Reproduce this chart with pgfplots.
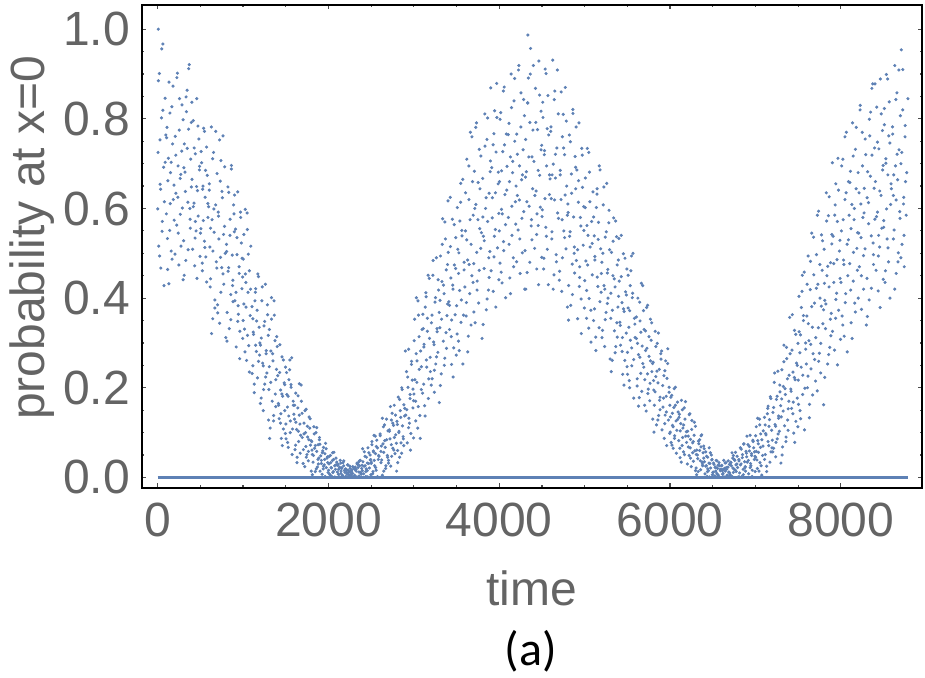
\documentclass[border=0pt]{standalone}
\usepackage{fontspec}
\setmainfont{Liberation Sans}
\newfontfamily\capfont{Carlito}
\usepackage{pgfplots}
\pgfplotsset{compat=1.18}
\definecolor{mmablue}{RGB}{94,129,181}
\definecolor{mmagray}{RGB}{100,100,100}
\begin{document}
\begin{tikzpicture}
\begin{axis}[
  scale only axis, width=390.15pt, height=241.35pt,
  xmin=-187, xmax=8950, ymin=-0.023, ymax=1.054,
  axis line style={black, line width=1pt},
  xtick={0,2000,4000,6000,8000},
  ytick={0,0.2,0.4,0.6,0.8,1.0},
  minor x tick num=3, minor y tick num=3,
  tick align=inside,
  major tick length=2.2pt, minor tick length=1.2pt,
  every tick/.style={black!70, line width=0.6pt},
  /pgf/number format/assume math mode=true,
  tick label style={font=\fontsize{24}{28}\selectfont, text=mmagray},
  xticklabel style={/pgf/number format/1000 sep={}, inner sep=0pt, anchor=north, yshift=-7.6pt},
  yticklabel style={/pgf/number format/fixed, /pgf/number format/fixed zerofill, /pgf/number format/precision=1, inner sep=0pt, anchor=east, xshift=-5.7pt},
  xlabel={time}, ylabel={probability at x=0},
  label style={font=\fontsize{24}{28}\selectfont, text=mmagray},
  xlabel style={at={(axis description cs:0.5,-0.243)}, anchor=base, inner sep=0pt},
  ylabel style={at={(axis description cs:-0.1246,0.518)}, anchor=base, inner sep=0pt},
]
\addplot[mmablue, only marks, mark=*, mark size=0.58pt, mark options={draw=none, fill=mmablue}] coordinates {
(4,0.725)(12,0.516)(20,0.901)(29,0.654)(37,0.467)(45,0.802)(54,0.571)(62,0.967)(70,0.692)(79,0.615)(87,0.846)(95,0.764)(7,1.0)
(102,0.588)(109,0.781)(117,0.464)(126,0.712)(133,0.882)(141,0.551)(150,0.680)(158,0.505)(166,0.827)(174,0.744)(183,0.620)(191,0.652)
(206,0.761)(214,0.634)(223,0.563)(231,0.902)(239,0.695)(248,0.474)(256,0.845)(264,0.667)(273,0.516)(281,0.728)(289,0.601)(297,0.798)
(304,0.528)(312,0.744)(320,0.681)(329,0.484)(337,0.816)(345,0.864)(354,0.614)(362,0.777)(370,0.921)(379,0.576)(387,0.710)(395,0.648)
(402,0.665)(409,0.509)(417,0.796)(426,0.612)(433,0.472)(441,0.722)(450,0.550)(458,0.845)(466,0.640)(474,0.583)(483,0.755)(491,0.694)
(506,0.555)(514,0.702)(523,0.461)(531,0.650)(539,0.779)(548,0.527)(556,0.625)(564,0.492)(573,0.737)(581,0.674)(589,0.580)(597,0.604)
(604,0.641)(612,0.514)(620,0.443)(629,0.782)(637,0.575)(645,0.354)(654,0.725)(662,0.547)(670,0.396)(679,0.608)(687,0.481)(695,0.678)
(702,0.385)(709,0.592)(717,0.532)(726,0.344)(733,0.661)(741,0.707)(750,0.468)(758,0.624)(766,0.762)(774,0.431)(783,0.560)(791,0.500)
(806,0.520)(814,0.368)(823,0.648)(831,0.468)(839,0.332)(848,0.576)(856,0.408)(864,0.696)(873,0.496)(881,0.440)(889,0.608)(897,0.548)
(904,0.394)(912,0.554)(920,0.291)(929,0.497)(937,0.637)(945,0.364)(954,0.470)(962,0.326)(970,0.592)(979,0.523)(987,0.421)(995,0.447)
(1002,0.487)(1009,0.387)(1017,0.331)(1026,0.598)(1033,0.435)(1041,0.261)(1050,0.553)(1058,0.413)(1066,0.294)(1074,0.461)(1083,0.361)(1091,0.516)
(1106,0.232)(1114,0.354)(1123,0.319)(1131,0.208)(1139,0.394)(1148,0.421)(1156,0.281)(1164,0.373)(1173,0.454)(1181,0.259)(1189,0.335)(1197,0.300)
(1204,0.295)(1212,0.177)(1220,0.394)(1229,0.255)(1237,0.149)(1245,0.338)(1254,0.208)(1262,0.431)(1270,0.276)(1279,0.233)(1287,0.363)(1295,0.317)
(1302,0.196)(1309,0.330)(1317,0.110)(1326,0.282)(1333,0.401)(1341,0.170)(1350,0.260)(1358,0.138)(1366,0.362)(1374,0.305)(1383,0.218)(1391,0.241)
(1406,0.227)(1414,0.165)(1423,0.131)(1431,0.296)(1439,0.195)(1448,0.087)(1456,0.269)(1464,0.181)(1473,0.108)(1481,0.211)(1489,0.149)(1497,0.246)
(1504,0.086)(1512,0.185)(1520,0.157)(1529,0.067)(1537,0.218)(1545,0.240)(1554,0.126)(1562,0.201)(1570,0.267)(1579,0.108)(1587,0.170)(1595,0.141)
(1602,0.130)(1609,0.062)(1617,0.188)(1626,0.107)(1633,0.045)(1641,0.155)(1650,0.080)(1658,0.209)(1666,0.119)(1674,0.094)(1683,0.170)(1691,0.143)
(1706,0.062)(1714,0.121)(1723,0.024)(1731,0.100)(1739,0.152)(1748,0.051)(1756,0.090)(1764,0.037)(1773,0.135)(1781,0.110)(1789,0.072)(1797,0.082)
(1804,0.080)(1812,0.051)(1820,0.034)(1829,0.113)(1837,0.065)(1845,0.013)(1854,0.100)(1862,0.058)(1870,0.023)(1879,0.073)(1887,0.043)(1895,0.089)
(1902,0.014)(1909,0.048)(1917,0.038)(1926,0.007)(1933,0.059)(1941,0.067)(1950,0.028)(1958,0.053)(1966,0.076)(1974,0.022)(1983,0.043)(1991,0.033)
(2006,0.030)(2014,0.007)(2023,0.049)(2031,0.022)(2039,0.002)(2048,0.038)(2056,0.013)(2064,0.056)(2073,0.026)(2081,0.018)(2089,0.043)(2097,0.034)
(2104,0.012)(2112,0.029)(2120,0.001)(2129,0.023)(2137,0.038)(2145,0.009)(2154,0.020)(2162,0.005)(2170,0.033)(2179,0.026)(2187,0.015)(2195,0.018)
(2202,0.019)(2209,0.011)(2217,0.007)(2226,0.028)(2233,0.015)(2241,0.001)(2250,0.025)(2258,0.013)(2266,0.004)(2274,0.017)(2283,0.009)(2291,0.022)
(2306,0.005)(2314,0.023)(2323,0.018)(2331,0.001)(2339,0.029)(2348,0.033)(2356,0.012)(2364,0.026)(2373,0.038)(2381,0.009)(2389,0.020)(2397,0.015)
(2404,0.035)(2412,0.008)(2420,0.057)(2429,0.026)(2437,0.002)(2445,0.045)(2454,0.015)(2462,0.066)(2470,0.031)(2479,0.021)(2487,0.050)(2495,0.040)
(2502,0.034)(2509,0.073)(2517,0.008)(2526,0.059)(2533,0.094)(2541,0.026)(2550,0.053)(2558,0.016)(2566,0.083)(2574,0.066)(2583,0.040)(2591,0.047)
(2606,0.093)(2614,0.058)(2623,0.039)(2631,0.132)(2639,0.075)(2648,0.014)(2656,0.117)(2664,0.067)(2673,0.026)(2681,0.084)(2689,0.049)(2697,0.104)
(2704,0.038)(2712,0.106)(2720,0.086)(2729,0.025)(2737,0.128)(2745,0.143)(2754,0.065)(2762,0.116)(2770,0.161)(2779,0.053)(2787,0.095)(2795,0.076)
(2802,0.125)(2809,0.060)(2817,0.179)(2826,0.103)(2833,0.045)(2841,0.149)(2850,0.077)(2858,0.200)(2866,0.115)(2874,0.091)(2883,0.162)(2891,0.137)
(2906,0.139)(2914,0.236)(2923,0.077)(2931,0.201)(2939,0.286)(2948,0.121)(2956,0.185)(2964,0.098)(2973,0.259)(2981,0.217)(2989,0.155)(2997,0.171)
(3004,0.305)(3012,0.218)(3020,0.170)(3029,0.401)(3037,0.260)(3045,0.110)(3054,0.362)(3062,0.241)(3070,0.138)(3079,0.282)(3087,0.196)(3095,0.330)
(3102,0.188)(3109,0.332)(3117,0.291)(3126,0.160)(3133,0.380)(3141,0.412)(3150,0.246)(3158,0.355)(3166,0.451)(3174,0.220)(3183,0.310)(3191,0.268)
(3206,0.345)(3214,0.220)(3223,0.451)(3231,0.302)(3239,0.190)(3248,0.391)(3256,0.253)(3264,0.490)(3273,0.325)(3281,0.279)(3289,0.418)(3297,0.368)
(3304,0.334)(3312,0.494)(3320,0.231)(3329,0.437)(3337,0.577)(3345,0.304)(3354,0.410)(3362,0.266)(3370,0.532)(3379,0.463)(3387,0.361)(3395,0.387)
(3402,0.502)(3409,0.392)(3417,0.330)(3426,0.625)(3433,0.445)(3441,0.252)(3450,0.576)(3458,0.420)(3466,0.289)(3474,0.474)(3483,0.363)(3491,0.535)
(3506,0.320)(3514,0.509)(3523,0.455)(3531,0.283)(3539,0.572)(3548,0.614)(3556,0.396)(3564,0.539)(3573,0.665)(3581,0.362)(3589,0.480)(3597,0.425)
(3604,0.550)(3612,0.360)(3620,0.710)(3629,0.485)(3637,0.315)(3645,0.620)(3654,0.410)(3662,0.770)(3670,0.520)(3679,0.450)(3687,0.660)(3695,0.585)
(3702,0.477)(3709,0.683)(3717,0.345)(3726,0.609)(3733,0.791)(3741,0.438)(3750,0.575)(3758,0.389)(3766,0.732)(3774,0.644)(3783,0.511)(3791,0.546)
(3806,0.667)(3814,0.538)(3823,0.466)(3831,0.811)(3839,0.600)(3848,0.374)(3856,0.754)(3864,0.571)(3873,0.418)(3881,0.634)(3889,0.504)(3897,0.706)
(3904,0.461)(3912,0.691)(3920,0.624)(3929,0.415)(3937,0.767)(3945,0.818)(3954,0.553)(3962,0.726)(3970,0.879)(3979,0.512)(3987,0.655)(3995,0.589)
(4002,0.660)(4009,0.478)(4017,0.814)(4026,0.598)(4033,0.434)(4041,0.727)(4050,0.526)(4058,0.871)(4066,0.631)(4074,0.564)(4083,0.766)(4091,0.694)
(4106,0.580)(4114,0.790)(4123,0.445)(4131,0.715)(4139,0.900)(4148,0.540)(4156,0.680)(4164,0.490)(4173,0.840)(4181,0.750)(4189,0.615)(4197,0.650)
(4204,0.766)(4212,0.629)(4220,0.552)(4229,0.919)(4237,0.695)(4245,0.455)(4254,0.858)(4262,0.664)(4270,0.501)(4279,0.731)(4287,0.593)(4295,0.807)
(4302,0.506)(4309,0.754)(4317,0.682)(4326,0.457)(4333,0.836)(4341,0.891)(4350,0.605)(4358,0.792)(4366,0.957)(4374,0.561)(4383,0.715)(4391,0.644)(4335,0.987)
(4406,0.705)(4414,0.511)(4423,0.868)(4431,0.639)(4439,0.465)(4448,0.776)(4456,0.562)(4464,0.929)(4473,0.674)(4481,0.603)(4489,0.817)(4497,0.741)
(4504,0.597)(4512,0.803)(4520,0.465)(4529,0.729)(4537,0.911)(4545,0.558)(4554,0.695)(4562,0.509)(4570,0.852)(4579,0.764)(4587,0.631)(4595,0.666)
(4602,0.772)(4609,0.622)(4617,0.548)(4626,0.931)(4633,0.699)(4641,0.452)(4650,0.862)(4658,0.668)(4666,0.497)(4674,0.735)(4683,0.590)(4691,0.811)
(4706,0.460)(4714,0.685)(4723,0.620)(4731,0.415)(4739,0.760)(4748,0.810)(4756,0.550)(4764,0.720)(4773,0.870)(4781,0.510)(4789,0.650)(4797,0.585)
(4804,0.610)(4812,0.428)(4820,0.764)(4829,0.548)(4837,0.384)(4845,0.677)(4854,0.476)(4862,0.821)(4870,0.581)(4879,0.514)(4887,0.716)(4895,0.644)
(4902,0.484)(4909,0.686)(4917,0.354)(4926,0.614)(4933,0.791)(4941,0.446)(4950,0.580)(4958,0.398)(4966,0.734)(4974,0.647)(4983,0.518)(4991,0.551)
(5006,0.602)(5014,0.483)(5023,0.417)(5031,0.734)(5039,0.540)(5048,0.333)(5056,0.681)(5064,0.514)(5073,0.373)(5081,0.571)(5089,0.452)(5097,0.637)
(5104,0.350)(5112,0.539)(5120,0.485)(5129,0.313)(5137,0.602)(5145,0.644)(5154,0.426)(5162,0.569)(5170,0.695)(5179,0.392)(5187,0.510)(5195,0.455)
(5202,0.480)(5209,0.328)(5217,0.608)(5226,0.428)(5233,0.292)(5241,0.536)(5250,0.368)(5258,0.656)(5266,0.456)(5274,0.400)(5283,0.568)(5291,0.508)
(5306,0.355)(5314,0.502)(5323,0.261)(5331,0.450)(5339,0.579)(5348,0.327)(5356,0.425)(5364,0.292)(5373,0.537)(5381,0.474)(5389,0.380)(5397,0.404)
(5404,0.438)(5412,0.346)(5420,0.295)(5429,0.540)(5437,0.390)(5445,0.230)(5454,0.499)(5462,0.370)(5470,0.261)(5479,0.414)(5487,0.322)(5495,0.465)
(5502,0.230)(5509,0.378)(5517,0.335)(5526,0.200)(5533,0.428)(5541,0.461)(5550,0.289)(5558,0.401)(5566,0.500)(5574,0.263)(5583,0.355)(5591,0.312)
(5606,0.310)(5614,0.204)(5623,0.400)(5631,0.274)(5639,0.178)(5648,0.349)(5656,0.232)(5664,0.433)(5673,0.293)(5681,0.254)(5689,0.372)(5697,0.330)
(5704,0.218)(5712,0.327)(5720,0.148)(5729,0.288)(5737,0.384)(5745,0.197)(5754,0.270)(5762,0.171)(5770,0.353)(5779,0.306)(5787,0.236)(5795,0.254)
(5802,0.257)(5809,0.195)(5817,0.161)(5826,0.326)(5833,0.225)(5841,0.117)(5850,0.299)(5858,0.211)(5866,0.138)(5874,0.241)(5883,0.179)(5891,0.276)
(5906,0.106)(5914,0.205)(5923,0.177)(5931,0.087)(5939,0.238)(5948,0.260)(5956,0.146)(5964,0.221)(5973,0.287)(5981,0.128)(5989,0.190)(5997,0.161)
(6004,0.135)(6012,0.078)(6020,0.183)(6029,0.116)(6037,0.065)(6045,0.156)(6054,0.093)(6062,0.201)(6070,0.126)(6079,0.105)(6087,0.168)(6095,0.146)
(6102,0.082)(6109,0.141)(6117,0.044)(6126,0.120)(6133,0.172)(6141,0.071)(6150,0.110)(6158,0.057)(6166,0.155)(6174,0.130)(6183,0.092)(6191,0.102)
(6206,0.103)(6214,0.068)(6223,0.049)(6231,0.142)(6239,0.085)(6248,0.024)(6256,0.127)(6264,0.077)(6273,0.036)(6281,0.094)(6289,0.059)(6297,0.114)
(6304,0.021)(6312,0.061)(6320,0.050)(6329,0.013)(6337,0.075)(6345,0.084)(6354,0.037)(6362,0.068)(6370,0.095)(6379,0.030)(6387,0.055)(6395,0.043)
(6402,0.035)(6409,0.008)(6417,0.057)(6426,0.026)(6433,0.002)(6441,0.045)(6450,0.015)(6458,0.066)(6466,0.031)(6474,0.021)(6483,0.050)(6491,0.040)
(6506,0.012)(6514,0.029)(6523,0.001)(6531,0.023)(6539,0.038)(6548,0.009)(6556,0.020)(6564,0.005)(6573,0.033)(6581,0.026)(6589,0.015)(6597,0.018)
(6604,0.026)(6612,0.015)(6620,0.009)(6629,0.038)(6637,0.020)(6645,0.001)(6654,0.033)(6662,0.018)(6670,0.005)(6679,0.023)(6687,0.012)(6695,0.029)
(6702,0.007)(6709,0.034)(6717,0.026)(6726,0.002)(6733,0.043)(6741,0.049)(6750,0.018)(6758,0.038)(6766,0.056)(6774,0.013)(6783,0.030)(6791,0.022)
(6806,0.040)(6814,0.010)(6823,0.066)(6831,0.030)(6839,0.002)(6848,0.051)(6856,0.018)(6864,0.075)(6873,0.035)(6881,0.024)(6889,0.058)(6897,0.046)
(6904,0.034)(6912,0.073)(6920,0.008)(6929,0.059)(6937,0.094)(6945,0.026)(6954,0.053)(6962,0.016)(6970,0.083)(6979,0.066)(6987,0.040)(6995,0.047)
(7002,0.093)(7009,0.058)(7017,0.039)(7026,0.132)(7033,0.075)(7041,0.014)(7050,0.117)(7058,0.067)(7066,0.026)(7074,0.084)(7083,0.049)(7091,0.104)
(7106,0.040)(7114,0.117)(7123,0.095)(7131,0.025)(7139,0.142)(7148,0.159)(7156,0.071)(7164,0.129)(7173,0.180)(7181,0.057)(7189,0.105)(7197,0.083)
(7204,0.145)(7212,0.065)(7220,0.212)(7229,0.118)(7237,0.046)(7245,0.174)(7254,0.086)(7262,0.237)(7270,0.132)(7279,0.103)(7287,0.191)(7295,0.160)
(7302,0.135)(7309,0.240)(7317,0.068)(7326,0.203)(7333,0.295)(7341,0.115)(7350,0.185)(7358,0.090)(7366,0.265)(7374,0.220)(7383,0.153)(7391,0.170)
(7406,0.276)(7414,0.197)(7423,0.154)(7431,0.363)(7439,0.235)(7448,0.099)(7456,0.328)(7464,0.218)(7473,0.125)(7481,0.255)(7489,0.177)(7497,0.299)
(7504,0.163)(7512,0.325)(7520,0.278)(7529,0.131)(7537,0.379)(7545,0.415)(7554,0.228)(7562,0.350)(7570,0.458)(7579,0.199)(7587,0.300)(7595,0.253)
(7602,0.360)(7609,0.200)(7617,0.494)(7626,0.305)(7633,0.163)(7641,0.419)(7650,0.242)(7658,0.545)(7666,0.335)(7674,0.276)(7683,0.452)(7691,0.389)
(7706,0.312)(7714,0.497)(7723,0.193)(7731,0.431)(7739,0.594)(7748,0.277)(7756,0.400)(7764,0.233)(7773,0.541)(7781,0.462)(7789,0.343)(7797,0.374)
(7804,0.509)(7812,0.395)(7820,0.332)(7829,0.635)(7837,0.450)(7845,0.253)(7854,0.584)(7862,0.425)(7870,0.290)(7879,0.479)(7887,0.366)(7895,0.542)
(7902,0.326)(7909,0.538)(7917,0.477)(7926,0.284)(7933,0.608)(7941,0.655)(7950,0.411)(7958,0.571)(7966,0.712)(7974,0.373)(7983,0.505)(7991,0.444)
(8006,0.550)(8014,0.360)(8023,0.710)(8031,0.485)(8039,0.315)(8048,0.620)(8056,0.410)(8064,0.770)(8073,0.520)(8081,0.450)(8089,0.660)(8097,0.585)
(8104,0.477)(8112,0.683)(8120,0.345)(8129,0.609)(8137,0.791)(8145,0.438)(8154,0.575)(8162,0.389)(8170,0.732)(8179,0.644)(8187,0.511)(8195,0.546)
(8202,0.680)(8209,0.545)(8217,0.470)(8226,0.830)(8233,0.610)(8241,0.375)(8250,0.770)(8258,0.580)(8266,0.420)(8274,0.645)(8283,0.510)(8291,0.720)
(8306,0.444)(8314,0.682)(8323,0.613)(8331,0.396)(8339,0.762)(8348,0.815)(8356,0.539)(8364,0.719)(8373,0.878)(8381,0.497)(8389,0.645)(8397,0.576)
(8404,0.660)(8412,0.462)(8420,0.826)(8429,0.592)(8437,0.416)(8445,0.733)(8454,0.514)(8462,0.889)(8470,0.629)(8479,0.556)(8487,0.774)(8495,0.696)
(8502,0.573)(8509,0.787)(8517,0.435)(8526,0.711)(8533,0.899)(8541,0.532)(8550,0.675)(8558,0.481)(8566,0.838)(8574,0.746)(8583,0.609)(8591,0.644)
(8606,0.766)(8614,0.629)(8623,0.552)(8631,0.919)(8639,0.695)(8648,0.455)(8656,0.858)(8664,0.664)(8673,0.501)(8681,0.731)(8689,0.593)(8697,0.807)
(8703,0.700)(8708,0.954)(8716,0.520)(8724,0.820)(8733,0.610)(8742,0.470)(8751,0.760)(8757,0.660)
(1,0.599)(9,0.885)(22,0.494)(27,0.753)(35,0.643)(48,0.956)(52,0.549)(61,0.819)(74,0.428)(88,0.703)
(105,0.758)(115,0.533)(119,0.662)(131,0.432)(144,0.813)(147,0.611)(158,0.703)(169,0.487)(180,0.873)(193,0.574)
(203,0.498)(213,0.719)(225,0.892)(236,0.625)(240,0.545)(253,0.775)(265,0.587)(271,0.676)(285,0.831)(298,0.441)
(307,0.691)(311,0.451)(324,0.638)(333,0.849)(346,0.734)(357,0.508)(363,0.912)(377,0.600)(382,0.556)(394,0.792)
(400,0.837)(417,0.604)(428,0.735)(438,0.534)(442,0.571)(455,0.649)(460,0.444)(472,0.784)(489,0.686)(496,0.493)
(501,0.545)(509,0.727)(522,0.478)(527,0.643)(535,0.573)(548,0.772)(552,0.513)(561,0.685)(574,0.436)(588,0.611)
(605,0.655)(615,0.425)(619,0.556)(631,0.321)(644,0.711)(647,0.505)(658,0.599)(669,0.378)(680,0.772)(693,0.467)
(703,0.367)(713,0.583)(725,0.753)(736,0.491)(740,0.413)(753,0.638)(765,0.454)(771,0.542)(785,0.693)(798,0.312)
(807,0.504)(811,0.304)(824,0.460)(833,0.636)(846,0.540)(857,0.352)(863,0.688)(877,0.428)(882,0.392)(894,0.588)
(900,0.630)(917,0.413)(928,0.535)(938,0.348)(942,0.383)(955,0.455)(960,0.265)(972,0.580)(989,0.489)(996,0.310)
(1001,0.350)(1009,0.542)(1022,0.280)(1027,0.454)(1035,0.380)(1048,0.590)(1052,0.317)(1061,0.498)(1074,0.235)(1088,0.420)
(1105,0.381)(1115,0.249)(1119,0.324)(1131,0.189)(1144,0.413)(1147,0.295)(1158,0.349)(1169,0.222)(1180,0.448)(1193,0.273)
(1203,0.165)(1213,0.311)(1225,0.425)(1236,0.249)(1240,0.196)(1253,0.348)(1265,0.224)(1271,0.283)(1285,0.385)(1298,0.128)
(1307,0.247)(1311,0.087)(1324,0.212)(1333,0.353)(1346,0.276)(1357,0.126)(1363,0.394)(1377,0.186)(1382,0.158)(1394,0.314)
(1400,0.292)(1417,0.161)(1428,0.234)(1438,0.121)(1442,0.142)(1455,0.186)(1460,0.071)(1472,0.262)(1489,0.207)(1496,0.098)
(1501,0.119)(1509,0.234)(1522,0.078)(1527,0.181)(1535,0.137)(1548,0.262)(1552,0.100)(1561,0.207)(1574,0.051)(1588,0.161)
(1605,0.161)(1615,0.072)(1619,0.123)(1631,0.033)(1644,0.182)(1647,0.103)(1658,0.139)(1669,0.054)(1680,0.206)(1693,0.089)
(1703,0.031)(1713,0.097)(1725,0.149)(1736,0.069)(1740,0.045)(1753,0.114)(1765,0.058)(1771,0.084)(1785,0.131)(1798,0.014)
(1807,0.061)(1811,0.006)(1824,0.049)(1833,0.097)(1846,0.071)(1857,0.019)(1863,0.111)(1877,0.040)(1882,0.030)(1894,0.084)
(1900,0.074)(1917,0.031)(1928,0.055)(1938,0.019)(1942,0.025)(1955,0.040)(1960,0.002)(1972,0.064)(1989,0.046)(1996,0.011)
(2001,0.016)(2009,0.047)(2022,0.005)(2027,0.033)(2035,0.021)(2048,0.055)(2052,0.011)(2061,0.040)(2074,0.001)(2088,0.028)
(2105,0.027)(2115,0.007)(2119,0.018)(2131,0.001)(2144,0.032)(2147,0.014)(2158,0.022)(2169,0.003)(2180,0.037)(2193,0.011)
(2203,0.002)(2213,0.017)(2225,0.028)(2236,0.011)(2240,0.005)(2253,0.020)(2265,0.008)(2271,0.014)(2285,0.024)(2298,0.001)
(2307,0.018)(2311,0.001)(2324,0.014)(2333,0.032)(2346,0.022)(2357,0.003)(2363,0.037)(2377,0.011)(2382,0.007)(2394,0.027)
(2400,0.064)(2417,0.025)(2428,0.047)(2438,0.013)(2442,0.019)(2455,0.032)(2460,0.001)(2472,0.055)(2489,0.039)(2496,0.006)
(2501,0.031)(2509,0.080)(2522,0.013)(2527,0.057)(2535,0.038)(2548,0.092)(2552,0.022)(2561,0.069)(2574,0.002)(2588,0.049)
(2605,0.097)(2615,0.033)(2619,0.070)(2631,0.005)(2644,0.113)(2647,0.056)(2658,0.082)(2669,0.020)(2680,0.130)(2693,0.045)
(2703,0.032)(2713,0.103)(2725,0.158)(2736,0.073)(2740,0.047)(2753,0.121)(2765,0.061)(2771,0.089)(2785,0.139)(2798,0.014)
(2807,0.118)(2811,0.033)(2824,0.100)(2833,0.174)(2846,0.134)(2857,0.054)(2863,0.196)(2877,0.086)(2882,0.071)(2894,0.154)
(2900,0.282)(2917,0.151)(2928,0.224)(2938,0.111)(2942,0.132)(2955,0.176)(2960,0.061)(2972,0.252)(2989,0.197)(2996,0.088)
(3001,0.186)(3009,0.353)(3022,0.126)(3027,0.276)(3035,0.212)(3048,0.394)(3052,0.158)(3061,0.314)(3074,0.087)(3088,0.247)
(3105,0.364)(3115,0.208)(3119,0.297)(3131,0.137)(3144,0.403)(3147,0.262)(3158,0.326)(3169,0.176)(3180,0.444)(3193,0.236)
(3203,0.206)(3213,0.362)(3225,0.484)(3236,0.296)(3240,0.239)(3253,0.401)(3265,0.269)(3271,0.332)(3285,0.441)(3298,0.167)
(3307,0.395)(3311,0.205)(3324,0.353)(3333,0.520)(3346,0.429)(3357,0.250)(3363,0.570)(3377,0.323)(3382,0.288)(3394,0.475)
(3400,0.617)(3417,0.384)(3428,0.515)(3438,0.314)(3442,0.351)(3455,0.429)(3460,0.224)(3472,0.564)(3489,0.466)(3496,0.273)
(3501,0.383)(3509,0.602)(3522,0.304)(3527,0.501)(3535,0.417)(3548,0.656)(3552,0.346)(3561,0.551)(3574,0.253)(3588,0.463)
(3605,0.635)(3615,0.390)(3619,0.530)(3631,0.280)(3644,0.695)(3647,0.475)(3658,0.575)(3669,0.340)(3680,0.760)(3693,0.435)
(3703,0.369)(3713,0.600)(3725,0.781)(3736,0.502)(3740,0.418)(3753,0.658)(3765,0.462)(3771,0.555)(3785,0.717)(3798,0.310)
(3807,0.581)(3811,0.341)(3824,0.528)(3833,0.739)(3846,0.624)(3857,0.398)(3863,0.802)(3877,0.490)(3882,0.446)(3894,0.682)
(3900,0.869)(3917,0.579)(3928,0.742)(3938,0.492)(3942,0.538)(3955,0.635)(3960,0.380)(3972,0.803)(3989,0.681)(3996,0.441)
(4001,0.550)(4009,0.799)(4022,0.458)(4027,0.684)(4035,0.588)(4048,0.862)(4052,0.506)(4061,0.742)(4074,0.401)(4088,0.641)
(4105,0.765)(4115,0.520)(4119,0.660)(4131,0.410)(4144,0.825)(4147,0.605)(4158,0.705)(4169,0.470)(4180,0.890)(4193,0.565)
(4203,0.481)(4213,0.721)(4225,0.909)(4236,0.619)(4240,0.532)(4253,0.782)(4265,0.578)(4271,0.675)(4285,0.843)(4298,0.420)
(4307,0.670)(4311,0.420)(4324,0.615)(4333,0.835)(4346,0.715)(4357,0.480)(4363,0.900)(4377,0.575)(4382,0.530)(4394,0.775)
(4400,0.919)(4417,0.629)(4428,0.792)(4438,0.542)(4442,0.588)(4455,0.685)(4460,0.430)(4472,0.853)(4489,0.731)(4496,0.491)
(4501,0.582)(4509,0.837)(4522,0.489)(4527,0.720)(4535,0.622)(4548,0.901)(4552,0.538)(4561,0.778)(4574,0.430)(4588,0.675)
(4605,0.782)(4615,0.532)(4619,0.675)(4631,0.420)(4644,0.843)(4647,0.619)(4658,0.721)(4669,0.481)(4680,0.909)(4693,0.578)
(4703,0.440)(4713,0.675)(4725,0.860)(4736,0.575)(4740,0.490)(4753,0.735)(4765,0.535)(4771,0.630)(4785,0.795)(4798,0.380)
(4807,0.591)(4811,0.351)(4824,0.538)(4833,0.749)(4846,0.634)(4857,0.408)(4863,0.812)(4877,0.500)(4882,0.456)(4894,0.692)
(4900,0.782)(4917,0.508)(4928,0.662)(4938,0.426)(4942,0.470)(4955,0.561)(4960,0.321)(4972,0.719)(4989,0.604)(4996,0.378)
(5001,0.439)(5009,0.668)(5022,0.355)(5027,0.562)(5035,0.474)(5048,0.725)(5052,0.399)(5061,0.615)(5074,0.302)(5088,0.522)
(5105,0.581)(5115,0.376)(5119,0.493)(5131,0.283)(5144,0.632)(5147,0.447)(5158,0.531)(5169,0.334)(5180,0.686)(5193,0.413)
(5203,0.312)(5213,0.500)(5225,0.648)(5236,0.420)(5240,0.352)(5253,0.548)(5265,0.388)(5271,0.464)(5285,0.596)(5298,0.264)
(5307,0.411)(5311,0.236)(5324,0.373)(5333,0.527)(5346,0.443)(5357,0.278)(5363,0.572)(5377,0.345)(5382,0.313)(5394,0.485)
(5400,0.533)(5417,0.339)(5428,0.448)(5438,0.281)(5442,0.312)(5455,0.376)(5460,0.206)(5472,0.489)(5489,0.407)(5496,0.247)
(5501,0.279)(5509,0.451)(5522,0.216)(5527,0.372)(5535,0.306)(5548,0.494)(5552,0.249)(5561,0.411)(5574,0.177)(5588,0.342)
(5605,0.358)(5615,0.220)(5619,0.299)(5631,0.159)(5644,0.391)(5647,0.268)(5658,0.324)(5669,0.192)(5680,0.428)(5693,0.246)
(5703,0.161)(5713,0.283)(5725,0.379)(5736,0.231)(5740,0.187)(5753,0.314)(5765,0.210)(5771,0.260)(5785,0.345)(5798,0.130)
(5807,0.216)(5811,0.101)(5824,0.191)(5833,0.292)(5846,0.237)(5857,0.128)(5863,0.322)(5877,0.172)(5882,0.151)(5894,0.264)
(5900,0.282)(5917,0.157)(5928,0.227)(5938,0.120)(5942,0.139)(5955,0.181)(5960,0.071)(5972,0.254)(5989,0.201)(5996,0.098)
(6001,0.101)(6009,0.179)(6022,0.072)(6027,0.143)(6035,0.113)(6048,0.198)(6052,0.087)(6061,0.161)(6074,0.054)(6088,0.129)
(6105,0.134)(6115,0.065)(6119,0.104)(6131,0.034)(6144,0.151)(6147,0.089)(6158,0.117)(6169,0.051)(6180,0.169)(6193,0.078)
(6203,0.030)(6213,0.092)(6225,0.140)(6236,0.066)(6240,0.043)(6253,0.107)(6265,0.055)(6271,0.080)(6285,0.123)(6298,0.015)
(6307,0.051)(6311,0.006)(6324,0.042)(6333,0.081)(6346,0.060)(6357,0.017)(6363,0.093)(6377,0.034)(6382,0.026)(6394,0.070)
(6400,0.064)(6417,0.025)(6428,0.047)(6438,0.013)(6442,0.019)(6455,0.032)(6460,0.001)(6472,0.055)(6489,0.039)(6496,0.006)
(6501,0.011)(6509,0.032)(6522,0.003)(6527,0.022)(6535,0.014)(6548,0.037)(6552,0.007)(6561,0.027)(6574,0.001)(6588,0.018)
(6605,0.027)(6615,0.007)(6619,0.018)(6631,0.001)(6644,0.032)(6647,0.014)(6658,0.022)(6669,0.003)(6680,0.037)(6693,0.011)
(6703,0.005)(6713,0.033)(6725,0.055)(6736,0.021)(6740,0.011)(6753,0.040)(6765,0.016)(6771,0.028)(6785,0.047)(6798,0.001)
(6807,0.037)(6811,0.001)(6824,0.028)(6833,0.063)(6846,0.044)(6857,0.006)(6863,0.074)(6877,0.022)(6882,0.014)(6894,0.054)
(6900,0.092)(6917,0.038)(6928,0.069)(6938,0.022)(6942,0.031)(6955,0.049)(6960,0.002)(6972,0.080)(6989,0.057)(6996,0.013)
(7001,0.045)(7009,0.113)(7022,0.020)(7027,0.082)(7035,0.056)(7048,0.130)(7052,0.033)(7061,0.097)(7074,0.005)(7088,0.070)
(7105,0.134)(7115,0.051)(7119,0.098)(7131,0.013)(7144,0.154)(7147,0.080)(7158,0.114)(7169,0.034)(7180,0.176)(7193,0.066)
(7203,0.057)(7213,0.156)(7225,0.233)(7236,0.114)(7240,0.078)(7253,0.181)(7265,0.097)(7271,0.137)(7285,0.206)(7298,0.032)
(7307,0.175)(7311,0.050)(7324,0.148)(7333,0.258)(7346,0.198)(7357,0.080)(7363,0.290)(7377,0.128)(7382,0.105)(7394,0.228)
(7400,0.357)(7417,0.192)(7428,0.284)(7438,0.142)(7442,0.168)(7455,0.223)(7460,0.078)(7472,0.319)(7489,0.250)(7496,0.113)
(7501,0.217)(7509,0.404)(7522,0.149)(7527,0.318)(7535,0.246)(7548,0.451)(7552,0.185)(7561,0.361)(7574,0.106)(7588,0.286)
(7605,0.431)(7615,0.226)(7619,0.343)(7631,0.133)(7644,0.482)(7647,0.297)(7658,0.381)(7669,0.184)(7680,0.536)(7693,0.263)
(7703,0.215)(7713,0.422)(7725,0.585)(7736,0.334)(7740,0.259)(7753,0.475)(7765,0.299)(7771,0.382)(7785,0.528)(7798,0.162)
(7807,0.433)(7811,0.223)(7824,0.387)(7833,0.572)(7846,0.471)(7857,0.274)(7863,0.626)(7877,0.353)(7882,0.316)(7894,0.521)
(7900,0.702)(7917,0.435)(7928,0.585)(7938,0.355)(7942,0.397)(7955,0.486)(7960,0.251)(7972,0.641)(7989,0.529)(7996,0.308)
(8001,0.435)(8009,0.695)(8022,0.340)(8027,0.575)(8035,0.475)(8048,0.760)(8052,0.390)(8061,0.635)(8074,0.280)(8088,0.530)
(8105,0.658)(8115,0.418)(8119,0.555)(8131,0.310)(8144,0.717)(8147,0.502)(8158,0.600)(8169,0.369)(8180,0.781)(8193,0.462)
(8203,0.400)(8213,0.635)(8225,0.820)(8236,0.535)(8240,0.450)(8253,0.695)(8265,0.495)(8271,0.590)(8285,0.755)(8298,0.340)
(8307,0.624)(8311,0.359)(8324,0.566)(8333,0.799)(8346,0.672)(8357,0.422)(8363,0.868)(8377,0.523)(8382,0.475)(8394,0.735)
(8400,0.878)(8417,0.582)(8428,0.748)(8438,0.494)(8442,0.540)(8455,0.639)(8460,0.379)(8472,0.811)(8489,0.686)(8496,0.442)
(8501,0.558)(8509,0.823)(8522,0.461)(8527,0.701)(8535,0.599)(8548,0.889)(8552,0.512)(8561,0.762)(8574,0.400)(8588,0.655)
(8605,0.782)(8615,0.532)(8619,0.675)(8631,0.420)(8644,0.843)(8647,0.619)(8658,0.721)(8669,0.481)(8680,0.909)(8693,0.578)
(8703,0.490)(8713,0.725)(8725,0.910)(8736,0.625)(8740,0.540)(8753,0.785)(8765,0.585)(8771,0.680)(8785,0.845)
};
\addplot[mmablue, line width=1.65pt] coordinates {(0,0) (8790,0)};
\end{axis}
\node[font=\capfont\fontsize{24}{28}\selectfont, text=black, anchor=base, inner sep=0pt] at (194.6pt,-88.65pt) {(a)};
\pgfresetboundingbox
\path[use as bounding box] (-70.85pt,-94.65pt) rectangle (391.65pt,243.85pt);
\end{tikzpicture}
\end{document}
